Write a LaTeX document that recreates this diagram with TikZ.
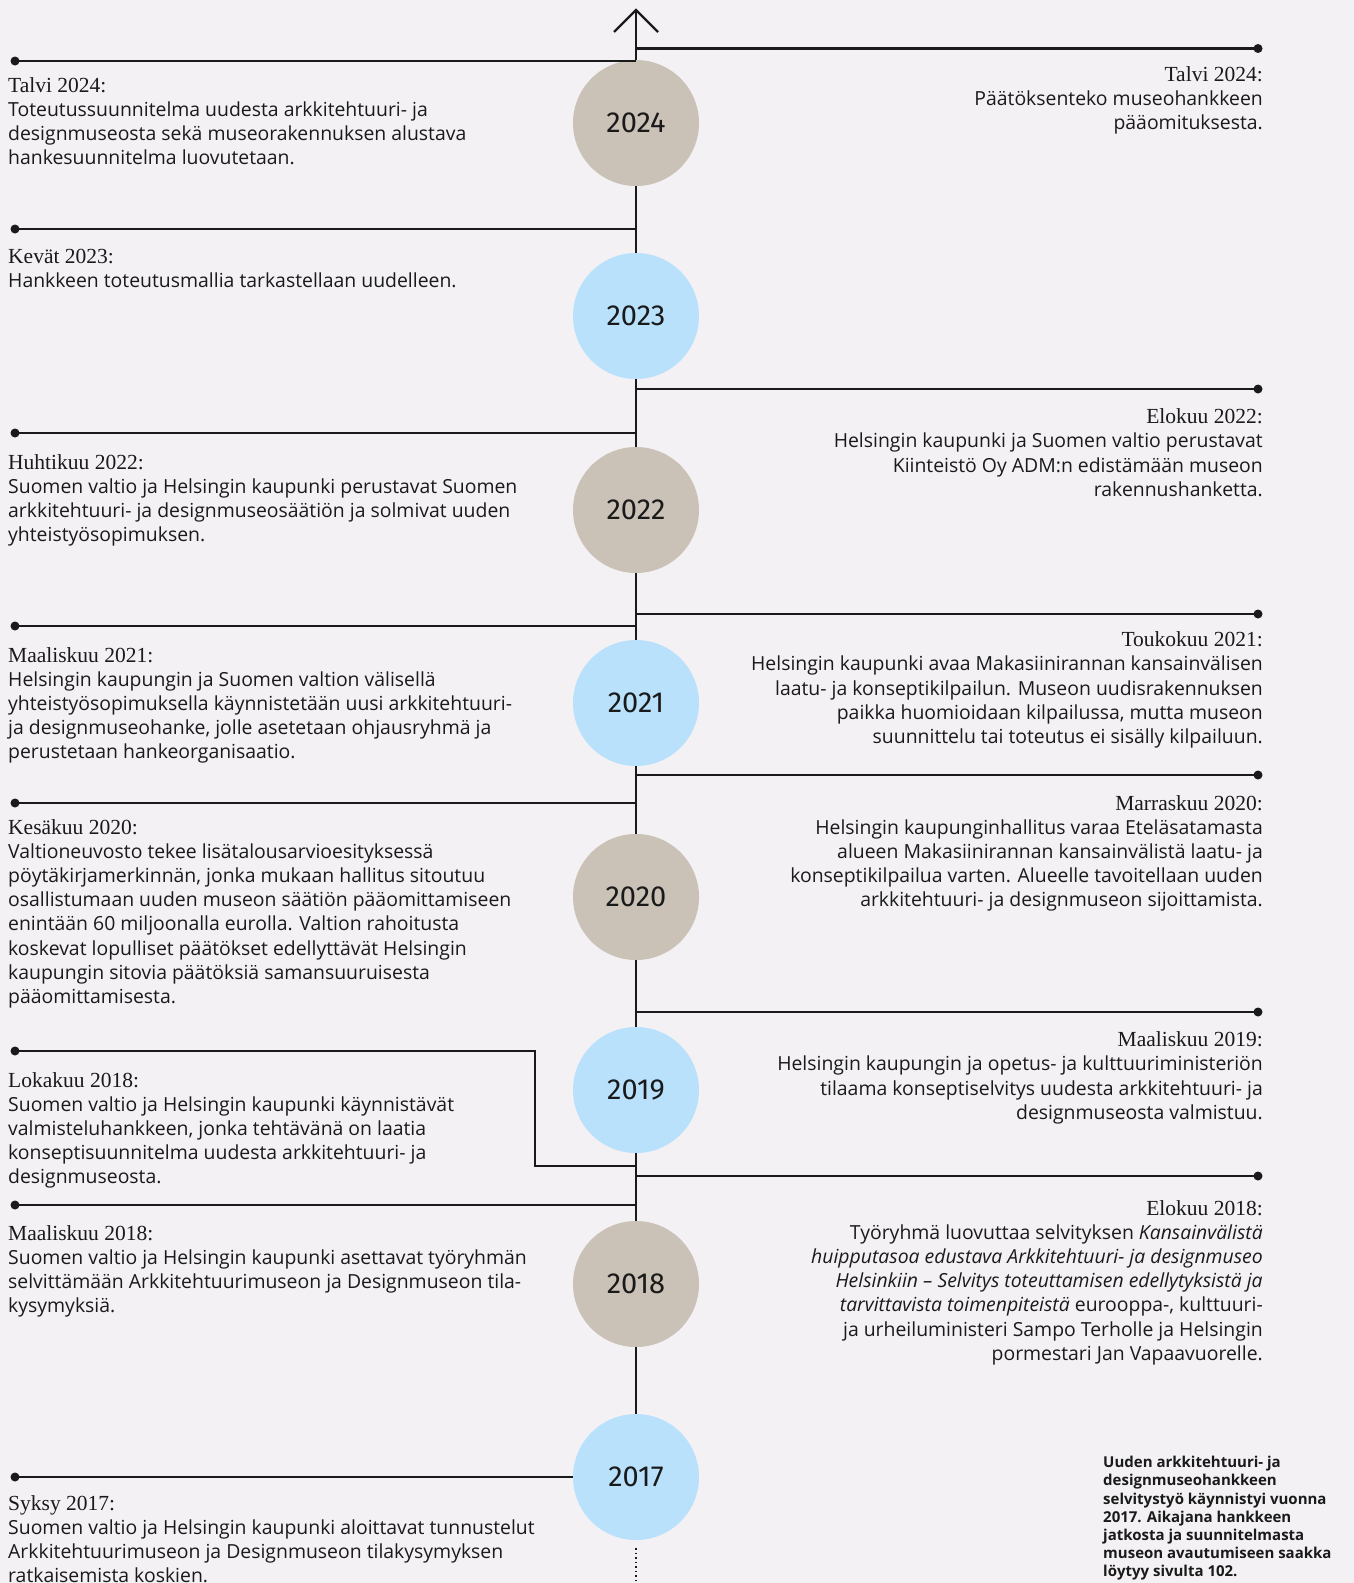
\documentclass[tikz,border=0pt]{standalone}
\usepackage{fontspec}
\setmainfont{Open Sans}
\newfontfamily\headf{Liberation Serif}
\newfontfamily\yearf{Fira Sans}
\definecolor{bg}{HTML}{F3F1F4}
\definecolor{ink}{HTML}{1A1A1A}
\definecolor{beige}{HTML}{CAC1B7}
\definecolor{skyb}{HTML}{B9E1FC}
\newcommand\hd[1]{{\headf\fontsize{21.5}{24.2}\selectfont #1}}
\begin{document}
\begin{tikzpicture}[x=1pt,y=-1pt,
  ln/.style={line width=2.2pt, draw=ink},
  dotend/.style={circle, fill=ink, inner sep=0pt, minimum size=9pt},
  yr/.style={circle, minimum size=126pt, inner sep=0pt, text=ink, font=\yearf\fontsize{29}{30}\selectfont},
  ltxt/.style={anchor=north west, align=left, inner sep=0pt, text=ink, font=\fontsize{19.4}{24.2}\selectfont},
  rtxt/.style={anchor=north east, align=right, inner sep=0pt, text=ink, font=\fontsize{19.4}{24.2}\selectfont},
  note/.style={anchor=north west, align=left, inner sep=0pt, text=ink, font=\bfseries\fontsize{15}{18.2}\selectfont}]
\path[use as bounding box, fill=bg] (0,0) rectangle (1354,1583);
\clip (0,0) rectangle (1354,1583);

% circles
\node[yr, fill=beige] (c2024) at (636,123) {2024};
\node[yr, fill=skyb]  (c2023) at (636,316) {2023};
\node[yr, fill=beige] (c2022) at (636,510) {2022};
\node[yr, fill=skyb]  (c2021) at (636,703) {2021};
\node[yr, fill=beige] (c2020) at (636,897) {2020};
\node[yr, fill=skyb]  (c2019) at (636,1090) {2019};
\node[yr, fill=beige] (c2018) at (636,1284) {2018};
\node[yr, fill=skyb]  (c2017) at (636,1477) {2017};

% axis
\coordinate (tip) at (636,10);
\coordinate (arL) at (614,32);
\coordinate (arR) at (658,32);
\draw[ln] (arL) -- (tip) -- (arR);
\draw[ln] (tip) -- (c2024.north);
\draw[ln] (c2024.south) -- (c2023.north);
\draw[ln] (c2023.south) -- (c2022.north);
\draw[ln] (c2022.south) -- (c2021.north);
\draw[ln] (c2021.south) -- (c2020.north);
\draw[ln] (c2020.south) -- (c2019.north);
\draw[ln] (c2019.south) -- (c2018.north);
\draw[ln] (c2018.south) -- (c2017.north);
\coordinate (dotA) at (636,1548);
\coordinate (dotB) at (636,1583);
\draw[ink, line width=1.5pt, dash pattern=on 1.5pt off 3pt] (dotA) -- (dotB);

% left connectors
\node[dotend] (L1) at (15,61) {};   \coordinate (A1) at (636,61);
\node[dotend] (L2) at (15,229) {};  \coordinate (A2) at (636,229);
\node[dotend] (L3) at (15,433) {};  \coordinate (A3) at (636,433);
\node[dotend] (L4) at (15,626) {};  \coordinate (A4) at (636,626);
\node[dotend] (L5) at (15,803) {};  \coordinate (A5) at (636,803);
\node[dotend] (L6) at (15,1051) {}; \coordinate (B6) at (535,1051); \coordinate (C6) at (535,1166); \coordinate (A6) at (636,1166);
\node[dotend] (L7) at (15,1205) {}; \coordinate (A7) at (636,1205);
\node[dotend] (L8) at (15,1477) {};
\draw[ln] (L1.center) -- (A1);
\draw[ln] (L2.center) -- (A2);
\draw[ln] (L3.center) -- (A3);
\draw[ln] (L4.center) -- (A4);
\draw[ln] (L5.center) -- (A5);
\draw[ln] (L6.center) -- (B6) -- (C6) -- (A6);
\draw[ln] (L7.center) -- (A7);
\draw[ln] (L8.center) -- (c2017.west);

% right connectors
\node[dotend] (R1) at (1258,48.5) {}; \coordinate (Q1) at (636,48.5);
\node[dotend] (R2) at (1258,389) {};  \coordinate (Q2) at (636,389);
\node[dotend] (R3) at (1258,614) {};  \coordinate (Q3) at (636,614);
\node[dotend] (R4) at (1258,775) {};  \coordinate (Q4) at (636,775);
\node[dotend] (R5) at (1258,1012) {}; \coordinate (Q5) at (636,1012);
\node[dotend] (R6) at (1258,1176) {}; \coordinate (Q6) at (636,1176);
\draw[ln] (Q1) -- (R1.center);
\draw[ln] (Q2) -- (R2.center);
\draw[ln] (Q3) -- (R3.center);
\draw[ln] (Q4) -- (R4.center);
\draw[ln] (Q5) -- (R5.center);
\draw[ln] (Q6) -- (R6.center);

% left texts
\node[ltxt] (t1) at (8,77) {\hd{Talvi 2024:}\\
Toteutussuunnitelma uudesta arkkitehtuuri- ja\\
designmuseosta sekä museorakennuksen alustava\\
hankesuunnitelma luovutetaan.};
\node[ltxt] (t2) at (8,249) {\hd{Kevät 2023:}\\
Hankkeen toteutusmallia tarkastellaan uudelleen.};
\node[ltxt] (t3) at (8,454) {\hd{Huhtikuu 2022:}\\
Suomen valtio ja Helsingin kaupunki perustavat Suomen\\
arkkitehtuuri- ja designmuseosäätiön ja solmivat uuden\\
yhteistyösopimuksen.};
\node[ltxt] (t4) at (8,647) {\hd{Maaliskuu 2021:}\\
Helsingin kaupungin ja Suomen valtion välisellä\\
yhteistyösopimuksella käynnistetään uusi arkkitehtuuri-\\
ja designmuseohanke, jolle asetetaan ohjausryhmä ja\\
perustetaan hankeorganisaatio.};
\node[ltxt] (t5) at (8,819) {\hd{Kesäkuu 2020:}\\
Valtioneuvosto tekee lisätalousarvioesityksessä\\
pöytäkirjamerkinnän, jonka mukaan hallitus sitoutuu\\
osallistumaan uuden museon säätiön pääomittamiseen\\
enintään 60 miljoonalla eurolla. Valtion rahoitusta\\
koskevat lopulliset päätökset edellyttävät Helsingin\\
kaupungin sitovia päätöksiä samansuuruisesta\\
pääomittamisesta.};
\node[ltxt] (t6) at (8,1072) {\hd{Lokakuu 2018:}\\
Suomen valtio ja Helsingin kaupunki käynnistävät\\
valmisteluhankkeen, jonka tehtävänä on laatia\\
konseptisuunnitelma uudesta arkkitehtuuri- ja\\
designmuseosta.};
\node[ltxt] (t7) at (8,1225) {\hd{Maaliskuu 2018:}\\
Suomen valtio ja Helsingin kaupunki asettavat työryhmän\\
selvittämään Arkkitehtuurimuseon ja Designmuseon tila-\\
kysymyksiä.};
\node[ltxt] (t8) at (8,1495) {\hd{Syksy 2017:}\\
Suomen valtio ja Helsingin kaupunki aloittavat tunnustelut\\
Arkkitehtuurimuseon ja Designmuseon tilakysymyksen\\
ratkaisemista koskien.};

% right texts
\node[rtxt] (s1) at (1263,66) {\hd{Talvi 2024:}\\
Päätöksenteko museohankkeen\\
pääomituksesta.};
\node[rtxt] (s2) at (1263,408.5) {\hd{Elokuu 2022:}\\
Helsingin kaupunki ja Suomen valtio perustavat\\
Kiinteistö Oy ADM:n edistämään museon\\
rakennushanketta.};
\node[rtxt] (s3) at (1263,631.5) {\hd{Toukokuu 2021:}\\
Helsingin kaupunki avaa Makasiinirannan kansainvälisen\\
laatu- ja konseptikilpailun. Museon uudisrakennuksen\\
paikka huomioidaan kilpailussa, mutta museon\\
suunnittelu tai toteutus ei sisälly kilpailuun.};
\node[rtxt] (s4) at (1263,795) {\hd{Marraskuu 2020:}\\
Helsingin kaupunginhallitus varaa Eteläsatamasta\\
alueen Makasiinirannan kansainvälistä laatu- ja\\
konseptikilpailua varten. Alueelle tavoitellaan uuden\\
arkkitehtuuri- ja designmuseon sijoittamista.};
\node[rtxt] (s5) at (1263,1031.5) {\hd{Maaliskuu 2019:}\\
Helsingin kaupungin ja opetus- ja kulttuuriministeriön\\
tilaama konseptiselvitys uudesta arkkitehtuuri- ja\\
designmuseosta valmistuu.};
\node[rtxt] (s6) at (1263,1200) {\hd{Elokuu 2018:}\\
Työryhmä luovuttaa selvityksen \textit{Kansainvälistä}\\
\textit{huipputasoa edustava Arkkitehtuuri- ja designmuseo}\\
\textit{Helsinkiin – Selvitys toteuttamisen edellytyksistä ja}\\
\textit{tarvittavista toimenpiteistä} eurooppa-, kulttuuri-\\
ja urheiluministeri Sampo Terholle ja Helsingin\\
pormestari Jan Vapaavuorelle.};

% note
\node[note] (nb) at (1103,1456) {Uuden arkkitehtuuri- ja\\
designmuseohankkeen\\
selvitystyö käynnistyi vuonna\\
2017. Aikajana hankkeen\\
jatkosta ja suunnitelmasta\\
museon avautumiseen saakka\\
löytyy sivulta 102.};
\end{tikzpicture}
\end{document}
